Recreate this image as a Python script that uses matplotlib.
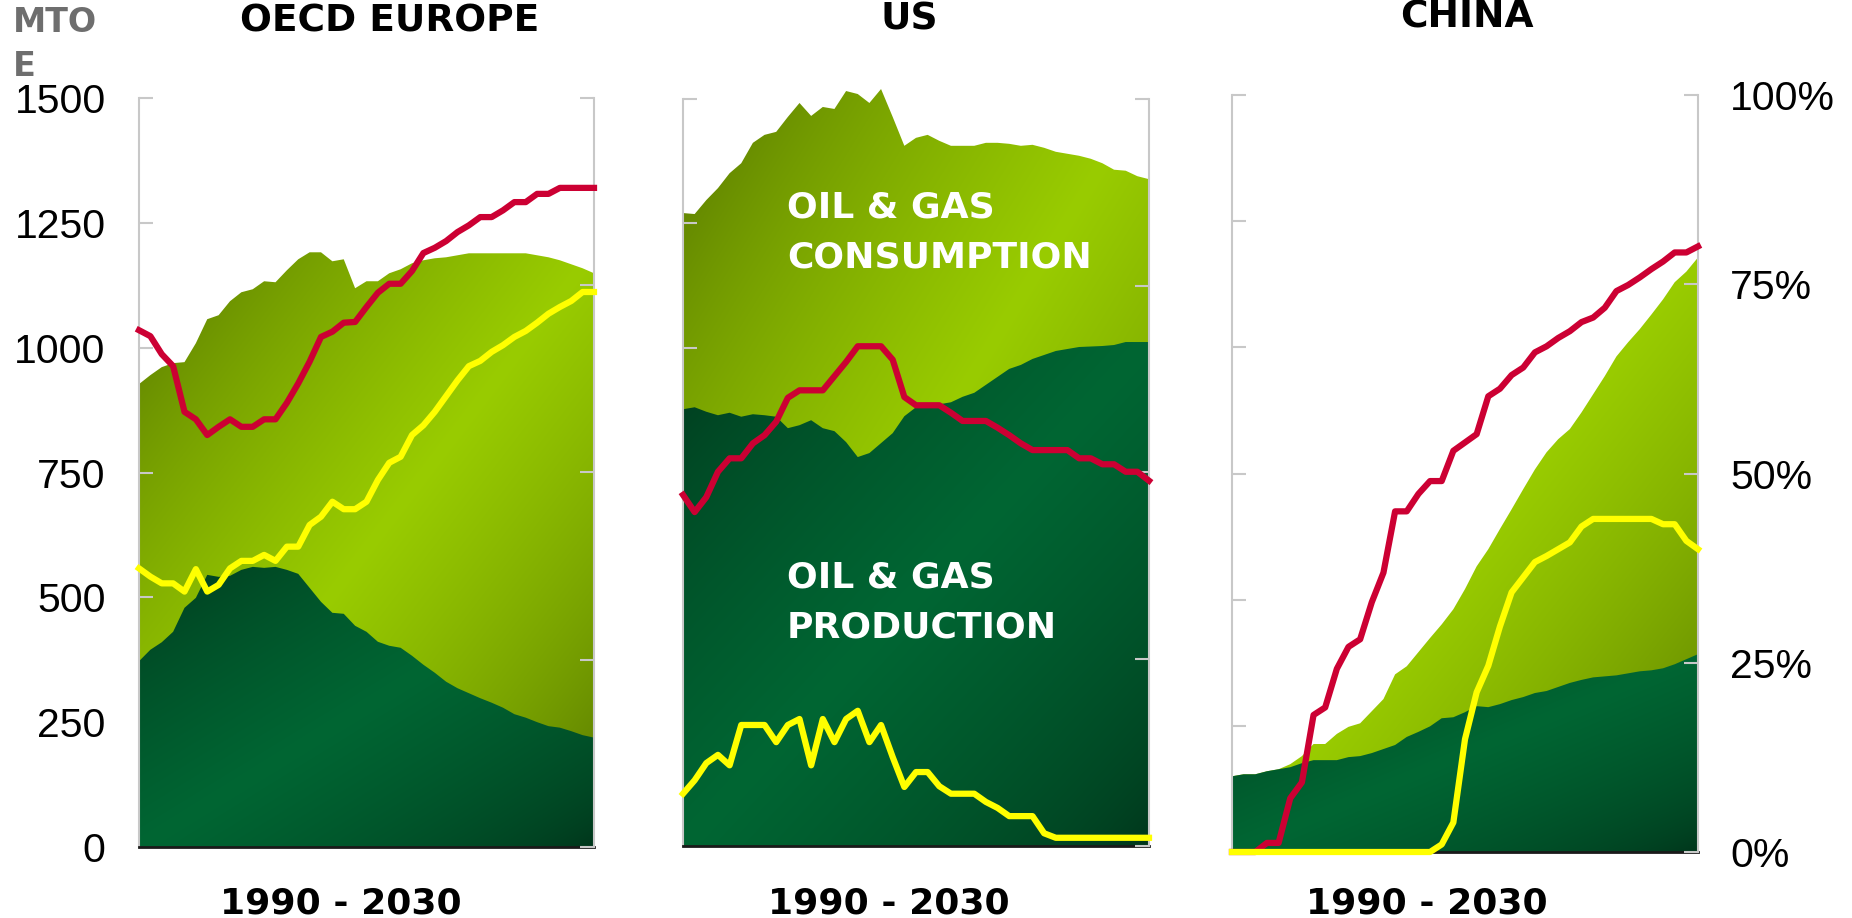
import matplotlib.pyplot as plt
import numpy as np
from matplotlib.colors import to_rgb
from matplotlib.patches import Polygon

years = np.arange(1990, 2031)

# MTOE
oecd_cons = [927, 945, 961, 969, 971, 1009, 1057, 1065, 1093, 1111, 1117, 1133, 1131, 1155, 1177, 1191, 1191, 1173,
             1177, 1119, 1133, 1133, 1149, 1157, 1169, 1175, 1179, 1181, 1185, 1189, 1189, 1189, 1189, 1189, 1189,
             1185, 1181, 1175, 1167, 1159, 1149]
oecd_prod = [372, 395, 410, 431, 479, 499, 545, 541, 543, 555, 561, 559, 561, 555, 547, 519, 491, 469, 467, 443, 431,
             411, 403, 399, 383, 365, 349, 331, 318, 308, 298, 289, 279, 266, 259, 250, 242, 239, 232, 224, 219]
us_cons = [1271, 1269, 1297, 1321, 1351, 1371, 1412, 1428, 1434, 1464, 1492, 1466, 1484, 1480, 1516, 1510, 1492, 1520,
           1464, 1406, 1422, 1428, 1416, 1406, 1406, 1406, 1412, 1412, 1410, 1406, 1408, 1402, 1394, 1390, 1386, 1380,
           1371, 1358, 1356, 1345, 1339]
us_prod = [877, 881, 872, 865, 870, 862, 867, 865, 862, 839, 845, 855, 839, 833, 811, 781, 789, 809, 829, 863, 881, 885,
           887, 891, 902, 910, 926, 942, 958, 966, 978, 986, 994, 998, 1002, 1003, 1004, 1006, 1012, 1012, 1012]
china_cons = [150, 154, 154, 160, 164, 174, 190, 214, 214, 234, 248, 255, 279, 303, 352, 368, 396, 424, 451, 481, 521,
              566, 600, 640, 679, 719, 758, 792, 818, 838, 871, 907, 943, 982, 1010, 1036, 1065, 1095, 1129, 1150, 1178]
china_prod = [150, 154, 154, 160, 164, 168, 176, 182, 182, 182, 188, 190, 196, 204, 212, 228, 238, 249, 265, 267, 277,
              289, 287, 293, 301, 307, 315, 319, 327, 335, 341, 346, 348, 350, 354, 358, 360, 364, 372, 382, 392]

# percent series (right axis)
oecd_red = [69.0, 68.2, 65.8, 64.2, 58.1, 57.1, 55.0, 56.1, 57.1, 56.1, 56.1, 57.1, 57.1, 59.3, 61.9, 64.8, 68.1, 68.8,
            70.0, 70.1, 72.1, 74.0, 75.2, 75.2, 76.9, 79.3, 80.0, 80.9, 82.1, 83.0, 84.1, 84.1, 85.0, 86.1, 86.1, 87.2,
            87.2, 88.0, 88.0, 88.0, 88.0]
oecd_yellow = [37.2, 36.1, 35.2, 35.2, 34.1, 37.1, 34.1, 35.0, 37.2, 38.2, 38.2, 39.0, 38.2, 40.1, 40.1, 43.0, 44.1,
               46.1, 45.1, 45.1, 46.1, 49.0, 51.3, 52.1, 55.0, 56.3, 58.1, 60.2, 62.3, 64.2, 64.9, 66.1, 67.0, 68.1,
               68.9, 70.0, 71.2, 72.1, 72.9, 74.1, 74.1]
us_red = [47.0, 44.7, 46.7, 50.1, 51.9, 51.9, 53.9, 55.0, 56.8, 60.0, 61.0, 61.0, 61.0, 62.9, 64.8, 66.9, 66.9, 66.9,
          65.1, 60.1, 59.0, 59.0, 59.0, 58.0, 56.9, 56.9, 56.9, 56.0, 55.0, 53.9, 53.0, 53.0, 53.0, 53.0, 51.9, 51.9,
          51.1, 51.1, 50.1, 50.1, 48.9]
us_yellow = [7.0, 8.8, 11.1, 12.2, 10.8, 16.2, 16.2, 16.2, 13.9, 16.2, 17.0, 10.8, 17.0, 13.9, 17.0, 18.1, 13.9, 16.2,
             11.9, 7.9, 9.9, 9.9, 8.0, 7.0, 7.0, 7.0, 5.9, 5.1, 4.0, 4.0, 4.0, 1.7, 1.1, 1.1, 1.1, 1.1, 1.1, 1.1, 1.1,
             1.1, 1.1]
china_red = [0, 0, 0, 1.2, 1.2, 7.1, 9.2, 18.1, 19.1, 24.2, 27.1, 28.1, 33.0, 36.9, 45.0, 45.0, 47.3, 49.0, 49.0, 53.0,
             54.1, 55.2, 60.2, 61.2, 63.0, 64.0, 66.0, 66.8, 67.9, 68.8, 70.0, 70.6, 71.9, 74.1, 74.9, 75.9, 77.0, 78.0,
             79.2, 79.2, 80.0]
china_yellow = [0, 0, 0, 0, 0, 0, 0, 0, 0, 0, 0, 0, 0, 0, 0, 0, 0, 0, 1.0, 3.9, 14.9, 21.1, 24.6, 29.8, 34.3, 36.3,
                38.3, 39.1, 40.0, 40.9, 43.0, 44.0, 44.0, 44.0, 44.0, 44.0, 44.0, 43.3, 43.3, 41.1, 40.0]

left_ticks = [0, 250, 500, 750, 1000, 1250, 1500]
right_ticks = [0, 25, 50, 75, 100]
right_labels = ['0%', '25%', '50%', '75%', '100%']

plt.rcParams['font.family'] = ['Liberation Sans', 'DejaVu Sans']

W, H = 1852, 918
fig = plt.figure(figsize=(W / 100, H / 100), dpi=100)

YMAX = 1500
YTOP = 1560  # a little head room so the US peaks are not cut

GREY = '#c8c8c8'
BLOCK = 'DejaVu Sans'


def gradient_area(ax, x, y, dark, bright, z):
    x = np.asarray(x, float)
    y = np.asarray(y, float)
    verts = np.column_stack([np.r_[x, x[::-1]], np.r_[y, np.zeros(len(y))]])
    patch = Polygon(verts, closed=True, facecolor='none', edgecolor='none')
    ax.add_patch(patch)
    u = np.linspace(0, 1, 300)
    U, V = np.meshgrid(u, u)
    w = (1 - np.abs(U + V - 1)) ** 0.6  # dark in TL / BR corners, bright along the other diagonal
    c0, c1 = np.array(to_rgb(dark)), np.array(to_rgb(bright))
    rgb = c0 + (c1 - c0) * w[..., None]
    im = ax.imshow(rgb, extent=[x.min(), x.max(), 0, y.max()], origin='upper',
                   aspect='auto', zorder=z, interpolation='bilinear')
    im.set_clip_path(patch)


panels = [
    ('OECD EUROPE', oecd_cons, oecd_prod, oecd_red, oecd_yellow, (139, 594, 98, 847)),
    ('US', us_cons, us_prod, us_red, us_yellow, (683, 1149, 99, 846)),
    ('CHINA', china_cons, china_prod, china_red, china_yellow, (1232, 1698, 95, 852)),
]

for i, (name, cons, prod, red, yellow, box) in enumerate(panels):
    l, r, t, b = box
    htop = (b - t) * YTOP / YMAX
    ax = fig.add_axes([l / W, 1 - b / H, (r - l) / W, htop / H])

    gradient_area(ax, years, cons, '#4a6600', '#99cc00', 1)
    gradient_area(ax, years, prod, '#00331a', '#006633', 2)

    ax.set_xlim(1990, 2030)
    ax.set_ylim(0, YTOP)
    ax.set_xticks([])
    ax.set_yticks(left_ticks)
    ax.tick_params(axis='y', direction='in', length=10, width=1.5, color=GREY,
                   pad=24, labelsize=29.5, labelleft=(i == 0), right=False)
    ax.spines['top'].set_visible(False)
    ax.spines['right'].set_visible(False)
    ax.spines['left'].set_color(GREY)
    ax.spines['left'].set_linewidth(1.5)
    ax.spines['left'].set_bounds(0, YMAX)
    ax.spines['bottom'].set_color('#1a1a1a')
    ax.spines['bottom'].set_linewidth(2)

    ax2 = ax.twinx()
    ax2.set_ylim(0, 100 * YTOP / YMAX)
    ax2.plot(years, red, color='#cc0033', lw=4.5, clip_on=False, zorder=3)
    ax2.plot(years, yellow, color='#ffff00', lw=4.5, clip_on=False, zorder=4)
    ax2.set_yticks(right_ticks)
    ax2.set_yticklabels(right_labels)
    ax2.tick_params(axis='y', direction='in', length=10, width=1.5, color=GREY,
                    pad=23, labelsize=29.5, labelright=(i == 2))
    for s in ['top', 'left', 'bottom']:
        ax2.spines[s].set_visible(False)
    ax2.spines['right'].set_color(GREY)
    ax2.spines['right'].set_linewidth(1.5)
    ax2.spines['right'].set_bounds(0, 100)


# titles and labels in figure pixels
def fx(px):
    return px / W


def fy(py):
    return 1 - py / H


fig.text(fx(390), fy(21), 'OECD EUROPE', ha='center', va='center', fontsize=27, fontweight='bold', family=BLOCK)
fig.text(fx(909), fy(20), 'US', ha='center', va='center', fontsize=27, fontweight='bold', family=BLOCK)
fig.text(fx(1467), fy(17), 'CHINA', ha='center', va='center', fontsize=27, fontweight='bold', family=BLOCK)

for cx in [341, 889, 1427]:
    fig.text(fx(cx), fy(904), '1990 - 2030', ha='center', va='center', fontsize=26, fontweight='bold', family=BLOCK)

fig.text(fx(13), fy(23), 'MTO', ha='left', va='center', fontsize=24, fontweight='bold', color='#6e6e6e', family=BLOCK)
fig.text(fx(13), fy(66), 'E', ha='left', va='center', fontsize=24, fontweight='bold', color='#6e6e6e', family=BLOCK)

fig.text(fx(787), fy(208), 'OIL & GAS', ha='left', va='center', fontsize=26, fontweight='bold', color='white', family=BLOCK)
fig.text(fx(787), fy(258), 'CONSUMPTION', ha='left', va='center', fontsize=26, fontweight='bold', color='white', family=BLOCK)
fig.text(fx(787), fy(577), 'OIL & GAS', ha='left', va='center', fontsize=26, fontweight='bold', color='white', family=BLOCK)
fig.text(fx(787), fy(628), 'PRODUCTION', ha='left', va='center', fontsize=26, fontweight='bold', color='white', family=BLOCK)

fig.savefig('out.png', dpi=100)
